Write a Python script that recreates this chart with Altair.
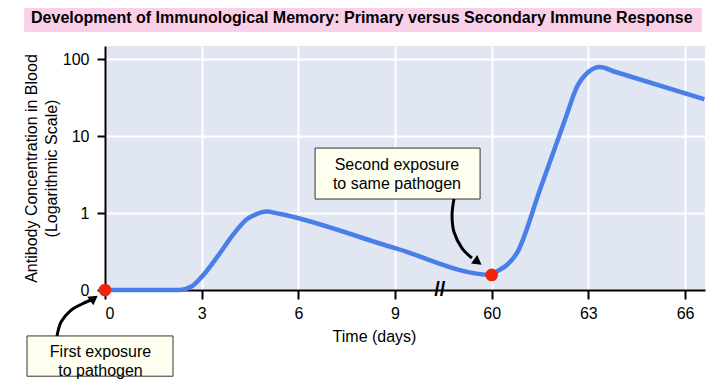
import altair as alt
import numpy as np
import pandas as pd

# ---------------- data ----------------
# days on the (broken) time axis and antibody concentration (0.1 = "0" baseline)
days = [0, 1.5, 2.3, 2.7, 3.0, 3.5, 4.0, 4.4, 4.7, 5.0, 5.4, 9,
        60, 60.2, 60.47, 60.78, 61.5, 62.3, 62.64, 63.0, 63.36, 63.8, 66.6]
conc = [0.1, 0.1, 0.1, 0.112, 0.148, 0.275, 0.54, 0.83, 0.97, 1.05, 0.98, 0.35,
        0.157, 0.178, 0.211, 0.30, 2.02, 17.4, 43, 68, 79, 69, 30]

exposure_days = [0, 60]
exposure_conc = [0.1, 0.157]

x_tick_pos = [0, 3, 6, 9, 12, 15, 18]
x_tick_labels = ["0", "3", "6", "9", "60", "63", "66"]
y_tick_vals = [-1, 0, 1, 2]
y_tick_labels = ["0", "1", "10", "100"]

BREAK_GAP = 48  # days 10.5..58.5 are cut out of the axis


def to_pos(d):
    return d if d < 30 else d - BREAK_GAP


line_df = pd.DataFrame({"x": [to_pos(d) for d in days], "y": np.log10(conc)})
dot_df = pd.DataFrame({"x": [to_pos(d) for d in exposure_days],
                       "y": np.log10(exposure_conc)})

# annotations (in data units: x = axis position, y = log10 concentration)
title_rect = pd.DataFrame({"x": [-2.51], "x2": [18.52], "y": [2.727], "y2": [2.351]})
title_txt = pd.DataFrame({"x": [7.97], "y": [2.539],
                          "t": ["Development of Immunological Memory: Primary versus Secondary Immune Response"]})
boxes = pd.DataFrame({"x": [-2.42, 6.52], "x2": [2.11, 11.64],
                      "y": [-1.597, 0.844], "y2": [-2.12, 0.182]})
box_txt = pd.DataFrame({"x": [-0.14, 9.06], "y": [-1.81, 0.625],
                        "t": ["First exposure\nto pathogen", "Second exposure\nto same pathogen"]})
arrows = pd.DataFrame({
    "id": [1] * 5 + [2] * 5,
    "o": list(range(5)) * 2,
    "x": [-1.489, -1.365, -1.086, -0.714, -0.434, 10.83, 10.77, 10.83, 11.077, 11.387],
    "y": [-1.597, -1.416, -1.273, -1.182, -1.130, 0.182, -0.026, -0.247, -0.455, -0.584],
})
heads = pd.DataFrame({"x": [-0.341, 11.57], "y": [-1.110, -0.636], "a": [55, 126]})
brk = pd.DataFrame({"x": [10.39], "y": [-1.0], "t": ["//"]})

FONT = "Liberation Sans"

xs = alt.Scale(domain=[0, 18.62], nice=False, zero=False)
ys = alt.Scale(domain=[-1, 2.17], nice=False, zero=False)

x_enc = alt.X("x:Q", scale=xs, axis=alt.Axis(
    values=x_tick_pos,
    labelExpr="datum.value >= 12 ? datum.value + 48 : datum.value",
    title="Time (days)", titleX=269, titleY=38, titleBaseline="top",
    titleAnchor="start", titleAlign="center",
    labelPadding=6, tickSize=9))
y_enc = alt.Y("y:Q", scale=ys, axis=alt.Axis(
    values=y_tick_vals,
    labelExpr="datum.value < -0.5 ? '0' : format(pow(10, datum.value), 'd')",
    title=["Antibody Concentration in Blood", "(Logarithmic Scale)"],
    titlePadding=3, titleLineHeight=20,
    labelPadding=8, tickSize=8))

line = alt.Chart(line_df).mark_line(color="#4A7EE8", strokeWidth=4.5, interpolate="monotone").encode(x=x_enc, y=y_enc)
dots = alt.Chart(dot_df).mark_circle(size=160, color="#F5230E", opacity=1).encode(x="x:Q", y="y:Q")

trect = alt.Chart(title_rect).mark_rect(fill="#FAD0E9").encode(x="x:Q", x2="x2", y="y:Q", y2="y2")
ttext = alt.Chart(title_txt).mark_text(font=FONT, fontSize=16, fontWeight="bold", color="black",
                                       baseline="middle", align="center").encode(x="x:Q", y="y:Q", text="t:N")
brects = alt.Chart(boxes).mark_rect(fill="#FFFFF0", stroke="#333333", strokeWidth=1).encode(
    x="x:Q", x2="x2", y="y:Q", y2="y2")
btext = alt.Chart(box_txt).mark_text(font=FONT, fontSize=16, color="black", lineBreak="\n",
                                     lineHeight=19, baseline="middle", align="center").encode(
    x="x:Q", y="y:Q", text="t:N")
alines = alt.Chart(arrows).mark_line(color="black", strokeWidth=3, interpolate="cardinal").encode(
    x="x:Q", y="y:Q", detail="id:N", order="o:Q")
aheads = alt.Chart(heads).mark_point(shape="triangle-up", filled=True, size=110, color="black", opacity=1).encode(
    x="x:Q", y="y:Q", angle=alt.Angle("a:Q", scale=None))
brkmark = alt.Chart(brk).mark_text(font=FONT, fontSize=20, fontWeight="bold", color="black", baseline="middle",
                                   align="center").encode(x="x:Q", y="y:Q", text="t:N")

chart = alt.layer(line, dots, trect, ttext, brects, btext, alines, aheads, brkmark).properties(
    width=600, height=244,
    autosize=alt.AutoSizeParams(type="none"),
    padding={"left": 97, "top": 38, "right": 7, "bottom": 90},
).configure_view(fill="#E0E7F3", stroke=None).configure_axis(
    grid=True, gridColor="white", gridWidth=2,
    domainColor="black", domainWidth=2, tickColor="black", tickWidth=2,
    labelFont=FONT, labelFontSize=16, labelColor="black",
    titleFont=FONT, titleFontSize=16, titleFontWeight="normal", titleColor="black",
)

chart.save("out.html", embed_options={"renderer": "svg", "actions": False})
